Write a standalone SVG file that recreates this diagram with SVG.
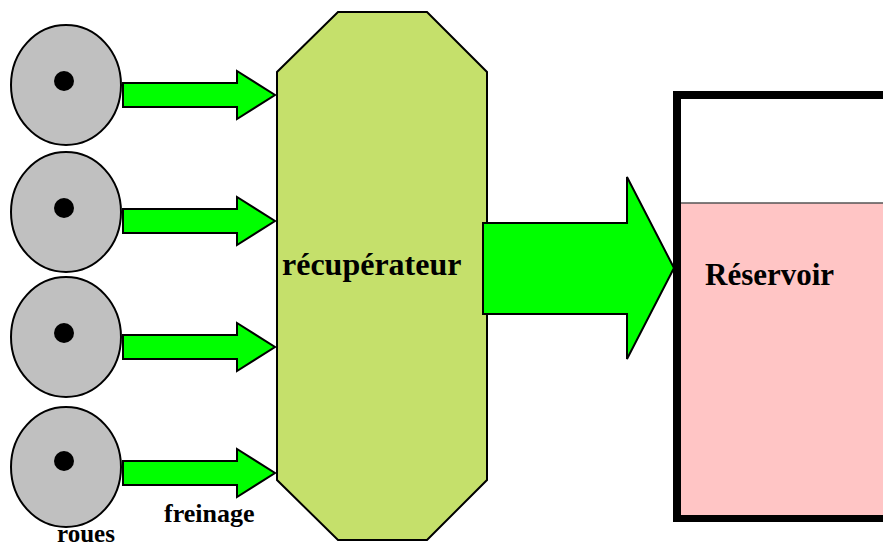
<svg xmlns="http://www.w3.org/2000/svg" width="883" height="547" viewBox="0 0 883 547">
  <style>
    .wheel { fill: #c0c0c0; stroke: #000; stroke-width: 2; }
    .hub { fill: #000; }
    .flow { fill: #00ff00; stroke: #000; stroke-width: 2; stroke-linejoin: miter; }
    .lbl { font-family: "Liberation Serif", "Times New Roman", serif; font-weight: bold; fill: #000; }
  </style>
  <rect width="883" height="547" fill="#fff"/>

  <!-- wheels -->
  <g id="roue1"><ellipse class="wheel" cx="66" cy="85" rx="55" ry="60"/><circle class="hub" cx="64" cy="81" r="10"/></g>
  <g id="roue2"><ellipse class="wheel" cx="66" cy="212" rx="55" ry="60"/><circle class="hub" cx="64" cy="208" r="10"/></g>
  <g id="roue3"><ellipse class="wheel" cx="66" cy="337" rx="55" ry="60"/><circle class="hub" cx="64" cy="333" r="10"/></g>
  <g id="roue4"><ellipse class="wheel" cx="66" cy="467" rx="55" ry="60"/><circle class="hub" cx="64" cy="461" r="10"/></g>

  <!-- recuperator -->
  <g id="recuperateur">
    <polygon points="338,12 427,12 487,72 487,480 427,540 338,540 277,480 277,72" fill="#c5e06b" stroke="#000" stroke-width="2"/>
    <text class="lbl" x="282" y="275" font-size="32">récupérateur</text>
  </g>

  <!-- reservoir -->
  <g id="reservoir">
    <rect x="677" y="95" width="300" height="423" fill="#fff" stroke="#000" stroke-width="8"/>
    <rect x="681" y="203" width="300" height="312" fill="#ffc5c5"/>
    <line x1="681" y1="203" x2="883" y2="203" stroke="#555" stroke-width="1.5"/>
    <text class="lbl" x="705" y="285" font-size="31">Réservoir</text>
  </g>

  <!-- connectors -->
  <g id="connecteurs">
    <polygon class="flow" points="123,83 237,83 237,71 275,95 237,119 237,107 123,107"/>
    <polygon class="flow" points="123,209 237,209 237,197 275,221 237,245 237,233 123,233"/>
    <polygon class="flow" points="123,335 237,335 237,323 275,347 237,371 237,359 123,359"/>
    <polygon class="flow" points="123,461 237,461 237,449 275,473 237,497 237,485 123,485"/>
    <polygon class="flow" points="483,223 627,223 627,177 674,268 627,359 627,314 483,314"/>
  </g>

  <!-- captions -->
  <text class="lbl" x="164" y="522" font-size="26">freinage</text>
  <text class="lbl" x="57" y="542" font-size="25">roues</text>
</svg>
